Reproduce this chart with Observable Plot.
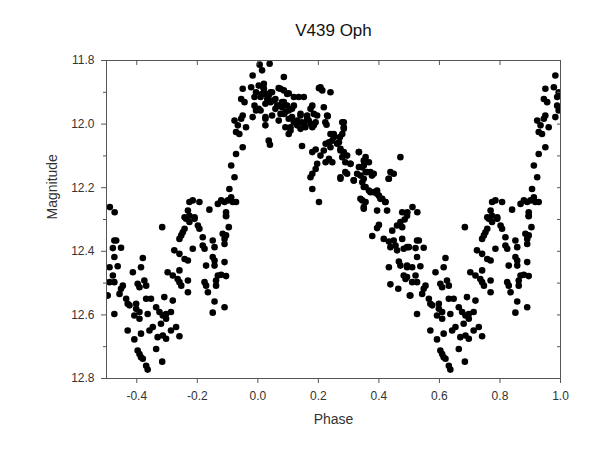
<!DOCTYPE html>
<html><head><meta charset="utf-8">
<script src="https://cdn.jsdelivr.net/npm/d3@7"></script>
<script src="https://cdn.jsdelivr.net/npm/@observablehq/plot@0.6"></script>
<style>body{margin:0;background:#fff;} svg{display:block;}</style>
</head><body><div id="chart"></div>
<script>
const title = "V439 Oph";
const xLabel = "Phase";
const yLabel = "Magnitude";
const xTicks = [-0.4, -0.2, 0.0, 0.2, 0.4, 0.6, 0.8, 1.0];
const yTicks = [11.8, 12.0, 12.2, 12.4, 12.6, 12.8];
const yMinorTicks = [11.9, 12.1, 12.3, 12.5, 12.7];

// one folded cycle (phase 0..1); phases >= 0.5 are repeated at phase-1
const phase = [
  0.006,0.039,0.014,0.086,0.003,0.018,0.014,0.009,0.031,0.042,
  0.053,0.069,0.086,0.102,0.119,0.135,0.152,0.202,0.213,0.240,
  0.003,0.025,0.025,0.058,0.069,0.075,0.091,0.102,0.119,0.130,
  0.146,0.157,0.168,0.180,0.185,0.185,0.108,0.102,0.036,0.040,
  0.146,0.180,0.191,0.218,0.231,0.227,0.240,0.251,0.235,0.224,
  0.218,0.246,0.240,0.279,0.284,0.279,0.271,0.268,0.273,0.284,
  0.295,0.306,0.207,0.196,0.191,0.180,0.174,0.180,0.202,0.224,
  0.235,0.246,0.334,0.356,0.367,0.350,0.334,0.328,0.317,0.339,
  0.356,0.372,0.383,0.273,0.295,0.345,0.350,0.367,0.383,0.394,
  0.400,0.411,0.422,0.339,0.356,0.350,0.394,0.427,0.433,0.449,
  0.471,0.477,0.493,0.020,0.036,0.047,0.025,0.080,0.097,0.113,
  0.141,0.163,0.174,
  0.020,0.025,0.042,0.036,0.058,0.064,0.080,0.086,0.102,0.113,
  0.130,0.141,0.152,0.163,0.180,0.191,0.174,0.196,0.075,0.097,
  0.009,0.025,0.047,0.069,0.091,0.108,0.141,0.086,0.119,0.207,
  0.223,0.229,
  0.284,0.284,0.251,0.262,0.273,0.279,0.289,0.306,0.334,0.350,
  0.344,0.361,0.377,0.350,0.356,0.372,0.394,0.405,0.421,0.345,
  0.350,0.273,0.289,0.317,0.438,0.432,
  0.983,0.950,0.978,0.994,0.989,0.945,0.956,0.989,0.994,0.983,
  0.945,0.950,0.923,0.934,0.961,0.928,0.939,0.950,0.928,0.912,
  0.923,0.906,0.912,0.901,0.890,0.879,0.868,0.917,0.928,0.895,
  0.895,0.840,0.807,0.785,0.774,0.769,0.774,0.791,0.494,0.511,
  0.527,
  0.400,0.394,0.378,0.416,0.433,0.444,0.460,0.477,0.485,0.471,
  0.449,0.455,0.460,0.438,0.477,0.482,0.493,0.466,0.471,0.433,
  0.493,0.482,0.488,0.438,0.464,0.502,
  0.526,0.532,0.499,0.521,0.548,0.526,0.493,0.510,0.537,0.493,
  0.521,0.526,0.510,0.504,0.526,0.554,0.548,0.543,0.565,0.570,
  0.576,0.598,0.598,0.592,0.609,0.609,0.636,0.603,0.609,0.625,
  0.631,0.587,0.614,0.620,0.631,0.647,0.664,0.691,0.719,0.675,
  0.686,0.697,0.713,0.680,0.697,0.730,0.713,0.741,0.570,0.592,
  0.614,0.642,0.653,0.669,0.686,0.697,0.664,0.684,0.603,0.609,
  0.614,0.620,0.631,0.636,0.684,0.752,0.758,0.774,0.763,0.791,
  0.802,0.807,0.747,0.741,0.758,0.724,0.741,0.758,0.769,0.741,
  0.702,0.719,0.735,0.747,0.741,0.769,0.769,0.785,0.818,0.818,
  0.824,0.851,0.857,0.851,0.857,0.829,0.857,0.890,0.884,0.890,
  0.890,0.895,0.904,0.895,0.824,0.829,0.835,0.868,0.879,0.895,
  0.862,0.862,0.857,0.851,0.890
];
const mag = [
  11.813,11.810,11.831,11.852,11.879,11.884,11.905,11.915,11.921,11.931,
  11.926,11.887,11.894,11.903,11.915,11.915,11.915,11.887,11.894,11.900,
  11.952,11.978,12.004,11.952,11.942,11.968,11.962,11.983,11.994,12.004,
  11.994,12.010,11.989,11.942,11.968,12.004,12.010,12.031,12.052,12.065,
  12.069,12.088,12.080,11.947,11.975,12.002,12.031,12.041,12.057,12.062,
  12.083,12.052,12.073,11.994,12.010,12.031,12.041,12.057,12.078,12.088,
  12.099,12.125,12.099,12.125,12.141,12.156,12.167,12.204,12.245,12.120,
  12.109,12.120,12.088,12.104,12.120,12.130,12.135,12.156,12.177,12.162,
  12.151,12.151,12.156,12.172,12.156,12.183,12.198,12.209,12.214,12.209,
  12.225,12.235,12.245,12.235,12.245,12.266,12.272,12.272,12.172,12.156,
  12.104,12.277,12.288,11.889,11.910,11.900,11.936,11.931,11.942,11.952,
  11.968,11.973,11.999,
  11.873,11.905,11.900,11.926,11.921,11.942,11.947,11.968,11.957,11.978,
  11.989,11.973,11.999,11.983,12.010,11.994,11.952,11.973,11.889,11.905,
  11.957,11.983,11.973,11.989,12.010,12.020,12.015,11.931,11.942,11.884,
  11.994,11.973,
  11.994,12.015,12.031,12.062,12.083,12.104,12.120,12.125,12.088,12.115,
  12.136,12.151,12.162,12.172,12.198,12.214,12.219,12.235,12.245,12.240,
  12.261,12.167,12.151,12.177,12.151,12.172,
  11.847,11.889,11.884,11.900,11.915,11.921,11.931,11.942,11.957,11.978,
  11.983,11.973,11.989,12.004,12.010,12.025,12.031,12.073,12.094,12.130,
  12.167,12.204,12.230,12.240,12.245,12.240,12.251,12.245,12.245,12.277,
  12.288,12.269,12.245,12.240,12.245,12.272,12.288,12.293,12.277,12.261,
  12.277,
  12.317,12.327,12.352,12.361,12.369,12.335,12.319,12.324,12.300,12.308,
  12.366,12.382,12.397,12.387,12.361,12.392,12.387,12.432,12.445,12.450,
  12.450,12.476,12.487,12.504,12.518,12.539,
  12.366,12.366,12.387,12.390,12.389,12.418,12.445,12.450,12.447,12.481,
  12.476,12.497,12.497,12.539,12.597,12.508,12.518,12.534,12.549,12.565,
  12.570,12.565,12.581,12.602,12.591,12.612,12.597,12.502,12.513,12.492,
  12.508,12.466,12.450,12.421,12.549,12.549,12.576,12.544,12.555,12.591,
  12.602,12.597,12.591,12.628,12.612,12.638,12.649,12.667,12.649,12.677,
  12.659,12.649,12.638,12.670,12.665,12.675,12.707,12.747,12.712,12.723,
  12.733,12.738,12.760,12.772,12.324,12.340,12.329,12.308,12.298,12.298,
  12.319,12.329,12.350,12.361,12.293,12.397,12.408,12.424,12.429,12.460,
  12.466,12.476,12.487,12.508,12.497,12.492,12.529,12.392,12.356,12.382,
  12.392,12.366,12.387,12.418,12.429,12.445,12.445,12.434,12.345,12.361,
  12.377,12.350,12.324,12.290,12.497,12.508,12.529,12.476,12.474,12.478,
  12.492,12.508,12.558,12.593,12.576
];

const base = phase.map((p, i) => ({phase: p, mag: mag[i]}));
const points = base.concat(base.filter(d => d.phase >= 0.5).map(d => ({phase: d.phase - 1, mag: d.mag})));
const fmt = d => d.toFixed(1);

const chart = Plot.plot({
  width: 604, height: 450,
  marginLeft: 106, marginRight: 44, marginTop: 60, marginBottom: 72,
  style: {fontFamily: "'Liberation Sans', Arial, sans-serif", fontSize: "12px", color: "#333", background: "#fff"},
  x: {domain: [-0.5, 1.0]},
  y: {domain: [11.8, 12.8], reverse: true},
  marks: [
    Plot.dot(points, {x: "phase", y: "mag", symbol: "circle", r: 3.3, fill: "#000", clip: true}),
    Plot.frame({stroke: "#555"}),
    Plot.axisX({ticks: xTicks, anchor: "bottom", tickSize: 5, tickPadding: 8, tickFormat: fmt, label: null, stroke: "#555"}),
    Plot.axisX({ticks: xTicks, anchor: "top", tickSize: -4, tickFormat: () => "", label: null, stroke: "#555"}),
    Plot.axisY({ticks: yTicks, anchor: "left", tickSize: 5, tickPadding: 7, tickFormat: fmt, label: null, stroke: "#555"}),
    Plot.axisY({ticks: yMinorTicks, anchor: "left", tickSize: 3, tickFormat: () => "", label: null, stroke: "#555"}),
    Plot.axisY({ticks: yTicks.concat(yMinorTicks), anchor: "right", tickSize: -4, tickFormat: () => "", label: null, stroke: "#555"}),
    Plot.text([title], {frameAnchor: "top", dy: -37, fontSize: 17, fill: "#111"}),
    Plot.text([xLabel], {frameAnchor: "bottom", dy: 45, fontSize: 14, fill: "#333"}),
    Plot.text([yLabel], {frameAnchor: "left", rotate: -90, dx: -54, fontSize: 14, fill: "#333"})
  ]
});
document.getElementById("chart").append(chart);
</script>
</body></html>
